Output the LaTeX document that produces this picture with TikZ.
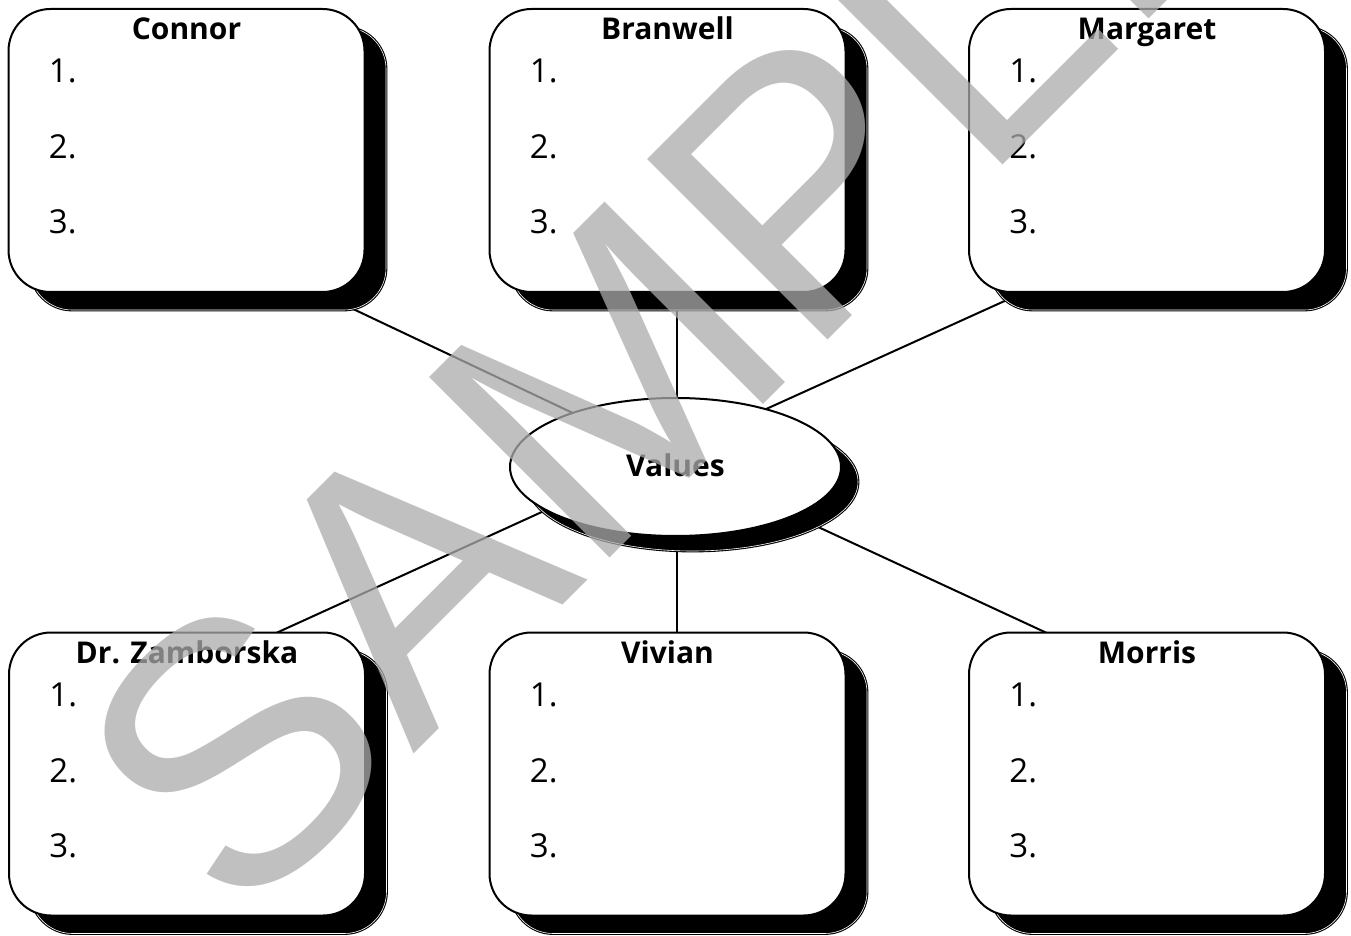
\documentclass[tikz,border=0pt]{standalone}
\usepackage{fontspec}
\setmainfont{Open Sans}
\newfontfamily\wmfont{Liberation Sans}
\usetikzlibrary{shapes.geometric,shadows,calc}
\definecolor{wmgray}{RGB}{171,171,171}
\begin{document}
\begin{tikzpicture}[x=0.5pt,y=-0.5pt,
  myshadow/.style={general shadow={fill=black, draw=black, line width=0.55pt, double=white, double distance=0.3pt, #1}},
  box/.style={rectangle, draw=black, line width=1pt, fill=white, rounded corners=21pt,
    minimum width=178pt, minimum height=141.5pt, inner sep=0pt,
    myshadow={shadow xshift=10.75pt, shadow yshift=-9pt}},
  valbox/.style={ellipse, draw=black, line width=1pt, fill=white,
    minimum width=165.5pt, minimum height=69pt, inner sep=0pt,
    myshadow={shadow xshift=8.5pt, shadow yshift=-7.5pt}},
  titletext/.style={font=\bfseries\fontsize{15}{18}\selectfont, anchor=base, inner sep=0pt},
  itemtext/.style={font=\fontsize{16.5}{20}\selectfont, anchor=base west, inner sep=0pt},
  conn/.style={draw=black, line width=1pt},
  wm/.style={font=\wmfont\fontsize{185.5}{200}\selectfont, text=wmgray, text opacity=0.75,
    anchor=base west, inner sep=0pt, rotate=45}]
\useasboundingbox (0,0) rectangle (1351,936);
\fill[white] (0,0) rectangle (1351,936);
% connector end points
\coordinate (l1a) at (351,308); \coordinate (l1b) at (577,415);
\coordinate (l2a) at (677,300); \coordinate (l2b) at (677,402);
\coordinate (l3a) at (1009,299); \coordinate (l3b) at (764,410);
\coordinate (l4a) at (274,634); \coordinate (l4b) at (544,511);
\coordinate (l5a) at (677,530); \coordinate (l5b) at (677,640);
\coordinate (l6a) at (816,526); \coordinate (l6b) at (1049,634);
\foreach \k in {1,...,6} \draw[conn] (l\k a) -- (l\k b);
% boxes
\foreach \nm/\cx/\cy/\ttl in {connor/186.5/150.5/Connor, branwell/667.5/150.5/Branwell, margaret/1147/150.5/Margaret, zamborska/187/774/Dr. Zamborska, vivian/667.5/774/Vivian, morris/1147/774/Morris} {
  \node[box] (\nm) at (\cx,\cy) {};
  \node[titletext] (\nm-t) at ($(\nm.north)+(0,32)$) {\ttl};
  \foreach \i/\dy in {1/75, 2/151, 3/226}
    \node[itemtext] (\nm-\i) at ($(\nm.north west)+(41,\dy)$) {\i.};
}
% centre ellipse
\node[valbox] (values) at (675.5,467) {};
\node[titletext] (values-t) at (675.5,477) {Values};
% watermark
\node[wm] (sample) at (238,930) {SAMPLE};
\end{tikzpicture}
\end{document}
